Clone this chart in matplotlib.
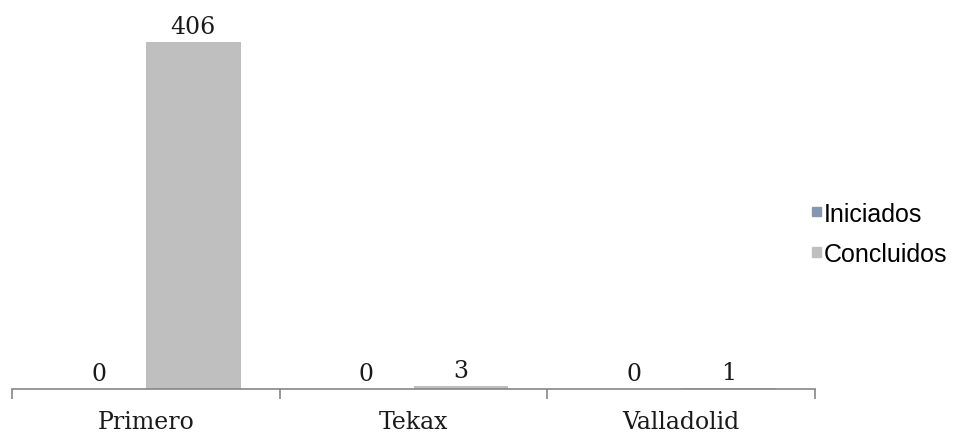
import matplotlib
matplotlib.use("Agg")
import numpy as np
import matplotlib.pyplot as plt
from matplotlib.patches import Patch

categorias = ["Primero", "Tekax", "Valladolid"]
iniciados = [0, 0, 0]
concluidos = [406, 3, 1]

color_ini = "#8497B0"
color_con = "#BFBFBF"

fig = plt.figure(figsize=(9.56, 4.39), dpi=100)
ax = fig.add_axes([0.0126, 0.1116, 0.8400, 0.876])

x = np.arange(len(categorias))
w = 0.354
b1 = ax.bar(x - w / 2, iniciados, w, color=color_ini)
b2 = ax.bar(x + w / 2, concluidos, w, color=color_con)

serif = dict(family="DejaVu Serif", fontsize=17, color="#1a1a1a")
for bars in (b1, b2):
    for r in bars:
        ax.annotate(f"{int(r.get_height())}",
                    (r.get_x() + r.get_width() / 2, r.get_height()),
                    xytext=(0, 3), textcoords="offset points",
                    ha="center", va="bottom", **serif)

ax.set_xlim(-0.5, 2.5)
ax.set_ylim(0, 450)
ax.set_yticks([])
for s in ("top", "right", "left"):
    ax.spines[s].set_visible(False)
ax.spines["bottom"].set_color("#868686")
ax.spines["bottom"].set_linewidth(1.2)

ax.set_xticks([-0.5, 0.5, 1.5, 2.5])
ax.set_xticklabels([])
ax.tick_params(axis="x", length=7, width=1.2, color="#868686")
ax.set_xticks(x, minor=True)
ax.set_xticklabels(categorias, minor=True, **serif)
ax.tick_params(axis="x", which="minor", length=0, pad=15)

handles = [Patch(color=color_ini), Patch(color=color_con)]
fig.legend(handles, ["Iniciados", "Concluidos"], loc="center left",
           bbox_to_anchor=(0.849, 0.465), frameon=False,
           borderpad=0, borderaxespad=0,
           prop={"family": "Liberation Sans", "size": 18},
           handlelength=0.36, handleheight=0.2, handletextpad=0.12,
           labelspacing=0.65)

fig.savefig("out.png", dpi=100)
